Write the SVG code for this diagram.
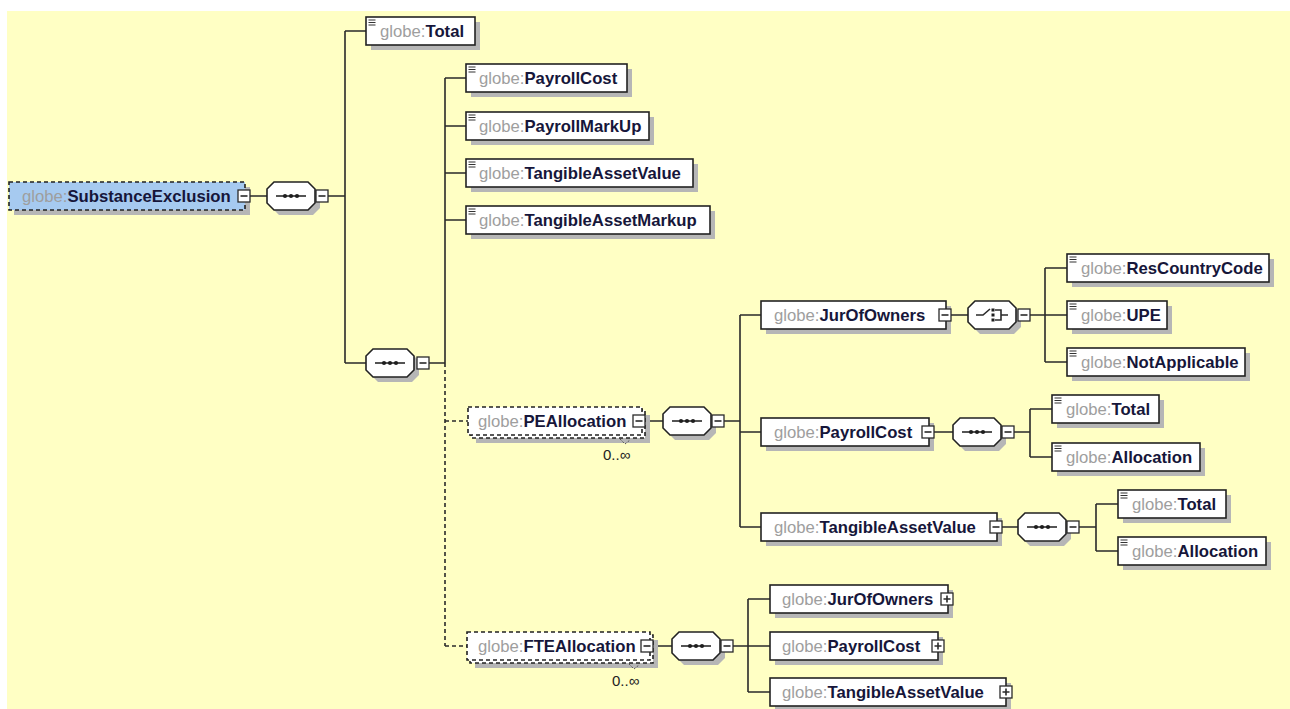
<svg xmlns="http://www.w3.org/2000/svg" xmlns:xlink="http://www.w3.org/1999/xlink" width="1290" height="709" viewBox="0 0 1290 709">
<style>
.bg{fill:#FFFFC4}
.sh{fill:#B6B6B6}
.box{fill:#FFFFFF;stroke:#222222;stroke-width:1.6}
.root{fill:#A6CAF0;stroke:#222222;stroke-width:1.6;stroke-dasharray:4 3}
.opt{fill:#FFFFFF;stroke:#222222;stroke-width:1.6;stroke-dasharray:4 3}
.oct{fill:#FFFFFF;stroke:#222222;stroke-width:1.6}
.ln{fill:none;stroke:#2A2A2A;stroke-width:1.6}
.dl{fill:none;stroke:#2A2A2A;stroke-width:1.6;stroke-dasharray:4 3}
.btn{fill:#FFFFFF;stroke:#2A2A2A;stroke-width:1.3}
.ic{fill:none;stroke:#333333;stroke-width:1.1}
.tk{fill:none;stroke:#555555;stroke-width:1;stroke-dasharray:2 1.5}
.dot{fill:#1E1E1E}
.t{font-family:"Liberation Sans",Arial,sans-serif;font-size:16.7px}
.ns{fill:#9E9E9E}
.nm{fill:#16163A;font-weight:bold}
.occ{font-family:"Liberation Sans",Arial,sans-serif;font-size:15px;fill:#222222}
</style>
<defs>
<g id="seq">
<path class="sh" d="M12 5 H46 L53 12 V26 L46 33 H12 L5 26 V12 Z"/>
<path class="oct" d="M7 0 H41 L48 7 V21 L41 28 H7 L0 21 V7 Z"/>
<path class="ln" d="M9 14 H39"/>
<circle class="dot" cx="18" cy="14" r="2.1"/>
<circle class="dot" cx="24" cy="14" r="2.1"/>
<circle class="dot" cx="30" cy="14" r="2.1"/>
</g>
<g id="cho">
<path class="sh" d="M12 5 H46 L53 12 V26 L46 33 H12 L5 26 V12 Z"/>
<path class="oct" d="M7 0 H41 L48 7 V21 L41 28 H7 L0 21 V7 Z"/>
<path class="ln" d="M8 14 H15 L22 8"/>
<rect class="dot" x="23.5" y="7.5" width="3" height="3"/>
<rect class="dot" x="23.5" y="12.5" width="3" height="3"/>
<rect class="dot" x="23.5" y="17.5" width="3" height="3"/>
<path class="ln" d="M27 9 H33 V19 H27 M33 14 H40"/>
</g>
<g id="minus">
<rect class="btn" x="0" y="0" width="12" height="12"/>
<path class="ln" d="M2.5 6 H9.5"/>
</g>
<g id="plus">
<rect class="btn" x="0" y="0" width="12" height="12"/>
<path class="ln" d="M2.5 6 H9.5 M6 2.5 V9.5"/>
</g>
<g id="ico">
<path class="ic" d="M2.5 3 H9.5 M2.5 5.5 H9.5 M2.5 8 H9.5"/>
</g>
</defs>
<rect x="0" y="0" width="1290" height="709" fill="#FFFFFF"/>
<rect class="bg" x="7" y="11" width="1283" height="698"/>
<g id="connectors">
<path class="ln" d="M250 196 H267 M328 196 H345 M345 31 V363 M345 31 H366 M345 363 H366 M429 363 H445 M445 78 V363 M445 78 H466 M445 126 H466 M445 173 H466 M445 220 H466"/>
<path class="dl" d="M445 363 V646 M445 421 H468 M445 646 H467"/>
<path class="ln" d="M645 421 H663 M724 421 H740 M740 315 V527 M740 315 H761 M740 432 H761 M740 527 H761"/>
<path class="ln" d="M951 315 H968 M1030 315 H1045 M1045 268 V362 M1045 268 H1067 M1045 315 H1067 M1045 362 H1067"/>
<path class="ln" d="M934 432 H953 M1014 432 H1030 M1030 409 V457 M1030 409 H1052 M1030 457 H1052"/>
<path class="ln" d="M1002 527 H1018 M1079 527 H1096 M1096 504 V551 M1096 504 H1118 M1096 551 H1118"/>
<path class="ln" d="M653 646 H672 M733 646 H748 M748 599 V692 M748 599 H770 M748 646 H770 M748 692 H770"/>
</g>
<g id="n-root">
<rect class="sh" x="14" y="187" width="236" height="28"/>
<rect class="root" x="9" y="182" width="236" height="28"/>
<text class="t" x="22" y="202"><tspan class="ns">globe:</tspan><tspan class="nm">SubstanceExclusion</tspan></text>
<use xlink:href="#minus" x="238" y="190"/>
</g>
<g id="n-seq1"><use xlink:href="#seq" x="267" y="182"/><use xlink:href="#minus" x="316" y="190"/></g>
<g id="n-total">
<rect class="sh" x="371" y="22" width="109" height="28"/>
<rect class="box" x="366" y="17" width="109" height="28"/>
<use xlink:href="#ico" x="366" y="17"/>
<text class="t" x="380" y="37"><tspan class="ns">globe:</tspan><tspan class="nm">Total</tspan></text>
</g>
<g id="n-seq2"><use xlink:href="#seq" x="366" y="349"/><use xlink:href="#minus" x="417" y="357"/></g>
<g id="n-payrollcost">
<rect class="sh" x="471" y="69" width="161" height="28"/>
<rect class="box" x="466" y="64" width="161" height="28"/>
<use xlink:href="#ico" x="466" y="64"/>
<text class="t" x="479" y="84"><tspan class="ns">globe:</tspan><tspan class="nm">PayrollCost</tspan></text>
</g>
<g id="n-payrollmarkup">
<rect class="sh" x="471" y="117" width="183" height="28"/>
<rect class="box" x="466" y="112" width="183" height="28"/>
<use xlink:href="#ico" x="466" y="112"/>
<text class="t" x="479" y="132"><tspan class="ns">globe:</tspan><tspan class="nm">PayrollMarkUp</tspan></text>
</g>
<g id="n-tangibleassetvalue">
<rect class="sh" x="471" y="164" width="227" height="28"/>
<rect class="box" x="466" y="159" width="227" height="28"/>
<use xlink:href="#ico" x="466" y="159"/>
<text class="t" x="479" y="179"><tspan class="ns">globe:</tspan><tspan class="nm">TangibleAssetValue</tspan></text>
</g>
<g id="n-tangibleassetmarkup">
<rect class="sh" x="471" y="211" width="244" height="28"/>
<rect class="box" x="466" y="206" width="244" height="28"/>
<use xlink:href="#ico" x="466" y="206"/>
<text class="t" x="479" y="226"><tspan class="ns">globe:</tspan><tspan class="nm">TangibleAssetMarkup</tspan></text>
</g>
<g id="n-peallocation">
<rect class="sh" x="476" y="415" width="174" height="28"/>
<rect class="opt" x="471" y="410" width="174" height="28"/>
<rect class="opt" x="468" y="407" width="174" height="28"/>
<text class="t" x="478" y="427"><tspan class="ns">globe:</tspan><tspan class="nm">PEAllocation</tspan></text>
<use xlink:href="#minus" x="633" y="415"/>
<path class="tk" d="M620 439 L625 444 L630 440"/>
<text class="occ" x="603" y="460">0..∞</text>
</g>
<g id="n-seq3"><use xlink:href="#seq" x="663" y="407"/><use xlink:href="#minus" x="712" y="415"/></g>
<g id="n-pe-jurofowners">
<rect class="sh" x="766" y="306" width="185" height="28"/>
<rect class="box" x="761" y="301" width="185" height="28"/>
<text class="t" x="774" y="321"><tspan class="ns">globe:</tspan><tspan class="nm">JurOfOwners</tspan></text>
<use xlink:href="#minus" x="939" y="309"/>
</g>
<g id="n-choice"><use xlink:href="#cho" x="968" y="301"/><use xlink:href="#minus" x="1018" y="309"/></g>
<g id="n-rescountrycode">
<rect class="sh" x="1072" y="259" width="202" height="28"/>
<rect class="box" x="1067" y="254" width="202" height="28"/>
<use xlink:href="#ico" x="1067" y="254"/>
<text class="t" x="1081" y="274"><tspan class="ns">globe:</tspan><tspan class="nm">ResCountryCode</tspan></text>
</g>
<g id="n-upe">
<rect class="sh" x="1072" y="306" width="100" height="28"/>
<rect class="box" x="1067" y="301" width="100" height="28"/>
<use xlink:href="#ico" x="1067" y="301"/>
<text class="t" x="1081" y="321"><tspan class="ns">globe:</tspan><tspan class="nm">UPE</tspan></text>
</g>
<g id="n-notapplicable">
<rect class="sh" x="1072" y="353" width="178" height="28"/>
<rect class="box" x="1067" y="348" width="178" height="28"/>
<use xlink:href="#ico" x="1067" y="348"/>
<text class="t" x="1081" y="368"><tspan class="ns">globe:</tspan><tspan class="nm">NotApplicable</tspan></text>
</g>
<g id="n-pe-payrollcost">
<rect class="sh" x="766" y="423" width="168" height="28"/>
<rect class="box" x="761" y="418" width="168" height="28"/>
<text class="t" x="774" y="438"><tspan class="ns">globe:</tspan><tspan class="nm">PayrollCost</tspan></text>
<use xlink:href="#minus" x="922" y="426"/>
</g>
<g id="n-seq4"><use xlink:href="#seq" x="953" y="418"/><use xlink:href="#minus" x="1002" y="426"/></g>
<g id="n-pc-total">
<rect class="sh" x="1057" y="400" width="107" height="28"/>
<rect class="box" x="1052" y="395" width="107" height="28"/>
<use xlink:href="#ico" x="1052" y="395"/>
<text class="t" x="1066" y="415"><tspan class="ns">globe:</tspan><tspan class="nm">Total</tspan></text>
</g>
<g id="n-pc-allocation">
<rect class="sh" x="1057" y="448" width="148" height="28"/>
<rect class="box" x="1052" y="443" width="148" height="28"/>
<use xlink:href="#ico" x="1052" y="443"/>
<text class="t" x="1066" y="463"><tspan class="ns">globe:</tspan><tspan class="nm">Allocation</tspan></text>
</g>
<g id="n-pe-tangibleassetvalue">
<rect class="sh" x="766" y="518" width="236" height="28"/>
<rect class="box" x="761" y="513" width="236" height="28"/>
<text class="t" x="774" y="533"><tspan class="ns">globe:</tspan><tspan class="nm">TangibleAssetValue</tspan></text>
<use xlink:href="#minus" x="990" y="521"/>
</g>
<g id="n-seq5"><use xlink:href="#seq" x="1018" y="513"/><use xlink:href="#minus" x="1067" y="521"/></g>
<g id="n-tav-total">
<rect class="sh" x="1123" y="495" width="108" height="28"/>
<rect class="box" x="1118" y="490" width="108" height="28"/>
<use xlink:href="#ico" x="1118" y="490"/>
<text class="t" x="1132" y="510"><tspan class="ns">globe:</tspan><tspan class="nm">Total</tspan></text>
</g>
<g id="n-tav-allocation">
<rect class="sh" x="1123" y="542" width="148" height="28"/>
<rect class="box" x="1118" y="537" width="148" height="28"/>
<use xlink:href="#ico" x="1118" y="537"/>
<text class="t" x="1132" y="557"><tspan class="ns">globe:</tspan><tspan class="nm">Allocation</tspan></text>
</g>
<g id="n-fteallocation">
<rect class="sh" x="475" y="640" width="183" height="28"/>
<rect class="opt" x="470" y="635" width="183" height="28"/>
<rect class="opt" x="467" y="632" width="183" height="28"/>
<text class="t" x="478" y="652"><tspan class="ns">globe:</tspan><tspan class="nm">FTEAllocation</tspan></text>
<use xlink:href="#minus" x="641" y="640"/>
<path class="tk" d="M629 664 L634 669 L639 665"/>
<text class="occ" x="612" y="686">0..∞</text>
</g>
<g id="n-seq6"><use xlink:href="#seq" x="672" y="632"/><use xlink:href="#minus" x="721" y="640"/></g>
<g id="n-fte-jurofowners">
<rect class="sh" x="775" y="590" width="178" height="28"/>
<rect class="box" x="770" y="585" width="178" height="28"/>
<text class="t" x="782" y="605"><tspan class="ns">globe:</tspan><tspan class="nm">JurOfOwners</tspan></text>
<use xlink:href="#plus" x="941" y="593"/>
</g>
<g id="n-fte-payrollcost">
<rect class="sh" x="775" y="637" width="168" height="28"/>
<rect class="box" x="770" y="632" width="168" height="28"/>
<text class="t" x="782" y="652"><tspan class="ns">globe:</tspan><tspan class="nm">PayrollCost</tspan></text>
<use xlink:href="#plus" x="932" y="640"/>
</g>
<g id="n-fte-tangibleassetvalue">
<rect class="sh" x="775" y="683" width="236" height="28"/>
<rect class="box" x="770" y="678" width="236" height="28"/>
<text class="t" x="782" y="698"><tspan class="ns">globe:</tspan><tspan class="nm">TangibleAssetValue</tspan></text>
<use xlink:href="#plus" x="1000" y="686"/>
</g>
</svg>
